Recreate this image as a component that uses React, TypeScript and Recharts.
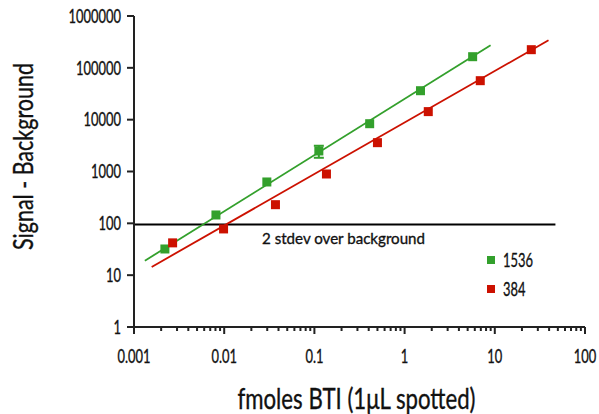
import React from 'react';
import { ScatterChart, Scatter, XAxis, YAxis, ReferenceLine, ErrorBar, Legend } from 'recharts';

const FONT = 'Lato, "Open Sans", sans-serif';
const SX = 0.68;
const GREEN = '#33a02c';
const RED = '#cc1100';
const AXIS = '#222222';
const TEXT = '#111111';

// Axis ticks
const xTicksMajor = [0.001, 0.01, 0.1, 1, 10, 100];
const xTickLabels = ['0.001', '0.01', '0.1', '1', '10', '100'];
const xMinorMultipliers = [2, 3, 4, 5, 6, 7, 8, 9];
const yTicks = [1, 10, 100, 1000, 10000, 100000, 1000000];
const yTickLabels = ['1', '10', '100', '1000', '10000', '100000', '1000000'];

// Series 1536 (green)
const green1536X = [0.0022, 0.0081, 0.0297, 0.112, 0.41, 1.5, 5.68];
const green1536Y = [32, 145, 628, 2490, 8360, 36200, 164000];
const green1536Err = [null, null, null, 650, null, null, null];

// Series 384 (red)
const red384X = [0.00268, 0.00984, 0.037, 0.136, 0.5, 1.83, 6.9, 25.4];
const red384Y = [42, 78, 229, 895, 3600, 14300, 56500, 224000];

// Fitted lines (endpoints)
const greenFitX = [0.00132, 8.98];
const greenFitY = [19, 272000];
const redFitX = [0.00157, 39.4];
const redFitY = [14.4, 340000];

// Background threshold
const backgroundLevel = 95;
const backgroundX = [0.001, 47];
const backgroundText = '2 stdev over background';

const legendItems = [
  { name: '1536', color: GREEN },
  { name: '384', color: RED },
];

const allXTicks: number[] = [];
xTicksMajor.forEach((m, i) => {
  allXTicks.push(m);
  if (i < xTicksMajor.length - 1) xMinorMultipliers.forEach((k) => allXTicks.push(m * k));
});

const greenData = green1536X.map((x, i) => ({ x, y: green1536Y[i], err: green1536Err[i] }));
const greenErrData = greenData.filter((d) => d.err != null);
const redData = red384X.map((x, i) => ({ x, y: red384Y[i] }));
const greenFit = greenFitX.map((x, i) => ({ x, y: greenFitY[i] }));
const redFit = redFitX.map((x, i) => ({ x, y: redFitY[i] }));

const NText = ({ x, y, size, anchor = 'start', children, rotate = 0, len }: any) => (
  <text
    transform={`translate(${x},${y}) rotate(${rotate}) scale(${len ? 1 : SX},1)`}
    textAnchor={anchor}
    fontFamily={FONT}
    fontSize={size}
    fill={TEXT}
    stroke={TEXT}
    strokeWidth={0.35}
    textLength={len}
    lengthAdjust={len ? 'spacingAndGlyphs' : undefined}
  >
    {children}
  </text>
);

const Square = (color: string) => (props: any) => {
  const { cx, cy } = props;
  if (cx == null || cy == null) return <g />;
  return <rect x={cx - 4.5} y={cy - 4.5} width={9} height={9} fill={color} />;
};

const Empty = () => <g />;

const XTick = (props: any) => {
  const { x, y, payload } = props;
  const v = payload.value;
  const idx = xTicksMajor.findIndex((m) => Math.abs(m - v) / m < 1e-6);
  const major = idx >= 0;
  return (
    <g>
      <line x1={x} x2={x} y1={y} y2={y + (major ? 7 : 4)} stroke={AXIS} strokeWidth={2} />
      {major && (
        <NText x={x} y={y + 36} size={19} anchor="middle">
          {xTickLabels[idx]}
        </NText>
      )}
    </g>
  );
};

const YTick = (props: any) => {
  const { x, y, payload } = props;
  const idx = yTicks.indexOf(payload.value);
  return (
    <NText x={x} y={y + 6.8} size={19} anchor="end">
      {idx >= 0 ? yTickLabels[idx] : String(payload.value)}
    </NText>
  );
};

const YLabel = (props: any) => {
  const vb = props.viewBox || { x: 0, y: 16, width: 134, height: 311 };
  return (
    <NText x={vb.x + 33} y={vb.y + vb.height / 2 - 15} size={26} anchor="middle" rotate={-90} len={187}>
      Signal - Background
    </NText>
  );
};

const XLabel = (props: any) => {
  const vb = props.viewBox || { x: 134, y: 327, width: 451, height: 87 };
  return (
    <NText x={vb.x + vb.width / 2 - 3} y={vb.y + 82} size={28} anchor="middle" len={238}>
      fmoles BTI (1μL spotted)
    </NText>
  );
};

const BgLabel = (props: any) => {
  const vb = props.viewBox || { x: 134, y: 225 };
  return (
    <NText x={vb.x + 128} y={vb.y + 20} size={16} len={163}>
      {backgroundText}
    </NText>
  );
};

const LegendContent = () => (
  <div style={{ fontFamily: FONT }}>
    {legendItems.map((it) => (
      <div key={it.name} style={{ height: 29, display: 'flex', alignItems: 'center' }}>
        <div style={{ width: 8, height: 8, background: it.color, marginRight: 8, flex: 'none' }} />
        <span
          style={{
            fontSize: 19,
            lineHeight: 1,
            color: TEXT,
            display: 'inline-block',
            transform: `scaleX(${SX})`,
            transformOrigin: 'left center',
            WebkitTextStroke: '0.35px #111',
          }}
        >
          {it.name}
        </span>
      </div>
    ))}
  </div>
);

export default function App() {
  return (
    <div style={{ position: 'absolute', left: 0, top: 0, width: 599, height: 414, background: '#fff' }}>
      <ScatterChart width={599} height={414} margin={{ top: 16, right: 14, bottom: 0, left: 0 }}>
        <XAxis
          dataKey="x"
          type="number"
          scale="log"
          domain={[0.001, 100]}
          ticks={allXTicks}
          interval={0}
          allowDataOverflow
          height={87}
          tickLine={false}
          tickSize={0}
          tickMargin={0}
          tick={<XTick />}
          axisLine={{ stroke: AXIS, strokeWidth: 2 }}
          label={<XLabel />}
        />
        <YAxis
          dataKey="y"
          type="number"
          scale="log"
          domain={[1, 1000000]}
          ticks={yTicks}
          interval={0}
          allowDataOverflow
          width={134}
          tickSize={7}
          tickMargin={6}
          tickLine={{ stroke: AXIS, strokeWidth: 2 }}
          axisLine={{ stroke: AXIS, strokeWidth: 2 }}
          tick={<YTick />}
          label={<YLabel />}
        />
        <ReferenceLine
          segment={[
            { x: backgroundX[0], y: backgroundLevel },
            { x: backgroundX[1], y: backgroundLevel },
          ]}
          stroke="#000"
          strokeWidth={2}
          ifOverflow="visible"
          label={<BgLabel />}
        />
        <Scatter data={greenFit} line={{ stroke: GREEN, strokeWidth: 1.8 }} shape={Empty} legendType="none" isAnimationActive={false} />
        <Scatter data={redFit} line={{ stroke: RED, strokeWidth: 1.8 }} shape={Empty} legendType="none" isAnimationActive={false} />
        <Scatter name="1536" data={greenData} fill={GREEN} shape={Square(GREEN)} isAnimationActive={false} />
        <Scatter name="384" data={redData} fill={RED} shape={Square(RED)} isAnimationActive={false} />
        <Scatter data={greenErrData} shape={Empty} legendType="none" isAnimationActive={false}>
          <ErrorBar dataKey="err" direction="y" width={5} stroke={GREEN} strokeWidth={2} isAnimationActive={false} />
        </Scatter>
        <Legend
          layout="vertical"
          align="center"
          verticalAlign="middle"
          wrapperStyle={{ position: 'absolute', left: 487, top: 245, width: 80 }}
          content={<LegendContent />}
        />
      </ScatterChart>
    </div>
  );
}
